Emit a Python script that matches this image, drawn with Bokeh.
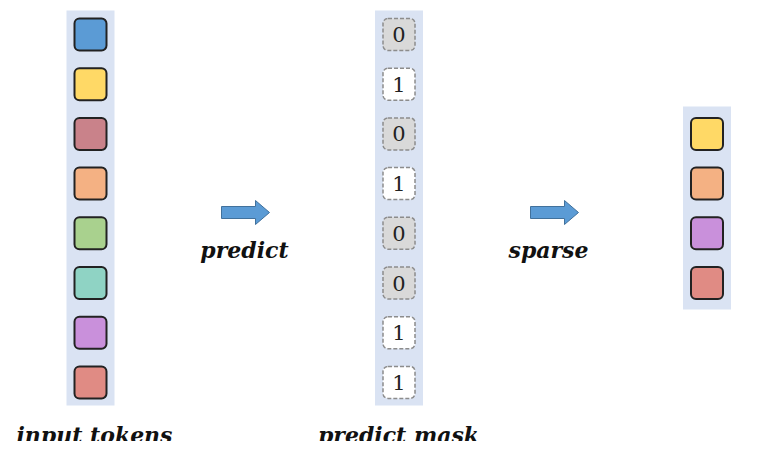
from bokeh.plotting import figure
from bokeh.models import Range1d, Rect
from bokeh.embed import file_html
from bokeh.resources import INLINE
from bokeh.core.properties import value

token_colors = ["#5b9bd5", "#ffd966", "#c9828a", "#f4b183", "#a9d18e", "#8fd3c4", "#c990db", "#e08b84"]
mask_values = [0, 1, 0, 1, 0, 0, 1, 1]
kept_colors = [c for c, m in zip(token_colors, mask_values) if m == 1]
labels = ["input tokens", "predict mask"]
arrow_labels = ["predict", "sparse"]

row_y = [34 + 49.7 * i for i in range(8)]
kept_y = row_y[2:6]

p = figure(width=749, height=441, output_backend="svg", toolbar_location=None,
           x_range=Range1d(0, 749), y_range=Range1d(441, 0))
p.axis.visible = False
p.grid.visible = False
p.outline_line_color = None
p.min_border = 0

rad = {"border_radius": 5} if "border_radius" in Rect.properties() else {}

bg = "#dae3f3"
p.rect(x=[90, 398.5], y=[207.5, 207.5], width=48, height=395, fill_color=bg, line_color=None)
p.rect(x=[706.5], y=[207.5], width=48, height=203, fill_color=bg, line_color=None)

p.rect(x=[90] * 8, y=row_y, width=32, height=32, fill_color=token_colors,
       line_color="#222222", line_width=2, **rad)
mask_fill = ["#d9d9d9" if m == 0 else "white" for m in mask_values]
p.rect(x=[398.5] * 8, y=row_y, width=32, height=32, fill_color=mask_fill,
       line_color="#8c8c8c", line_width=1.5, line_dash="4 2", **rad)
p.text(x=[398.5] * 8, y=row_y, text=[str(m) for m in mask_values], text_align="center",
       text_baseline="middle", text_font=value("DejaVu Serif"), text_font_size="21px", text_color="#222222")
p.rect(x=[706.5] * 4, y=kept_y, width=32, height=32, fill_color=kept_colors,
       line_color="#222222", line_width=2, **rad)

for x0 in [221, 530]:
    p.patch(x=[x0, x0 + 34, x0 + 34, x0 + 48, x0 + 34, x0 + 34, x0],
            y=[206, 206, 200, 212, 224, 218, 218], fill_color="#5b9bd5", line_color="#41719c", line_width=1)

p.text(x=[244, 548], y=[249, 249], text=arrow_labels, text_align="center", text_baseline="middle",
       text_font=value("DejaVu Serif"), text_font_style="bold italic", text_font_size="22px", text_color="#111111")
p.text(x=[94, 398], y=[434, 434], text=labels, text_align="center", text_baseline="middle",
       text_font=value("DejaVu Serif"), text_font_style="bold italic", text_font_size="22px", text_color="#111111")

open("out.html", "w").write(file_html(p, INLINE))
